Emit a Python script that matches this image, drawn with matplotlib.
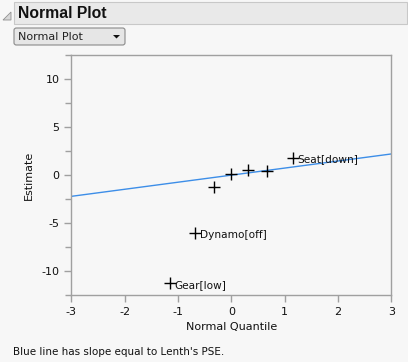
import matplotlib
matplotlib.use("Agg")
from matplotlib import pyplot as plt
from matplotlib.patches import Rectangle, FancyBboxPatch, Polygon

plt.rcParams["axes.unicode_minus"] = False

# normal quantiles and effect estimates
quantiles = [-1.15, -0.674, -0.319, 0.0, 0.319, 0.674, 1.15]
estimates = [-11.3, -6.05, -1.25, 0.17, 0.52, 0.45, 1.77]
labels = ["Gear[low]", "Dynamo[off]", "", "", "", "", "Seat[down]"]
lenth_pse = 0.737

bg = "#f7f7f7"
axis_col = "#a0a0a0"

fig = plt.figure(figsize=(4.08, 3.62), dpi=100, facecolor=bg)

W, H = 408, 362


def box(x0, y0, x1, y1, **kw):
    # pixel coords from top-left
    return Rectangle((x0 / W, 1 - y1 / H), (x1 - x0) / W, (y1 - y0) / H,
                     transform=fig.transFigure, **kw)


# header bar
fig.patches.append(box(14, 2, 407, 24, facecolor="#e9e9e9", edgecolor="#c8c8c8", lw=0.8))
fig.patches.append(Polygon([(3 / W, 1 - 20 / H), (11 / W, 1 - 12 / H), (11 / W, 1 - 20 / H)],
                           closed=True, transform=fig.transFigure,
                           facecolor="#d8d8d8", edgecolor="#909090", lw=0.6))
fig.text(18 / W, 1 - 13.5 / H, "Normal Plot", fontsize=11.3, fontweight="bold",
         family="Liberation Sans", va="center", ha="left", color="#111111")

# dropdown
fig.patches.append(FancyBboxPatch((14 / W, 1 - 45 / H), 111 / W, 17 / H,
                                  boxstyle="round,pad=0,rounding_size=0.006",
                                  transform=fig.transFigure, facecolor="#e6e6e6",
                                  edgecolor="#8a8a8a", lw=0.8))
fig.text(18 / W, 1 - 36.5 / H, "Normal Plot", fontsize=8, va="center", ha="left",
         color="#222222")
fig.patches.append(Polygon([(113 / W, 1 - 35 / H), (120 / W, 1 - 35 / H), (116.5 / W, 1 - 38.5 / H)],
                           closed=True, transform=fig.transFigure, facecolor="#111111",
                           edgecolor="none"))

ax = fig.add_axes([71.3 / W, 1 - 295 / H, 320 / W, 239.7 / H])
ax.set_facecolor(bg)
ax.set_xlim(-3, 3)
ax.set_ylim(-12.5, 12.5)

ax.plot([-3, 3], [-3 * lenth_pse, 3 * lenth_pse], color="#3d8ee8", lw=1.0)
ax.plot(quantiles, estimates, linestyle="none", marker="+", color="black",
        markersize=9, markeredgewidth=1.0)
for q, e, lab in zip(quantiles, estimates, labels):
    if lab:
        ax.annotate(lab, (q, e), xytext=(3.5, -1), textcoords="offset points",
                    fontsize=7.6, va="center", ha="left", color="#111111")

ax.set_xticks([-3, -2, -1, 0, 1, 2, 3])
ax.set_yticks([-10, -5, 0, 5, 10])
ax.set_yticks([-12.5, -7.5, -2.5, 2.5, 7.5, 12.5], minor=True)
ax.tick_params(axis="both", colors=axis_col, labelcolor="#111111", labelsize=8,
               length=5, width=1)
ax.tick_params(axis="y", which="minor", length=4, width=1, colors=axis_col)
for s in ax.spines.values():
    s.set_color(axis_col)
    s.set_linewidth(1)

ax.set_xlabel("Normal Quantile", fontsize=8, color="#111111", va="center")
ax.set_ylabel("Estimate", fontsize=8, color="#111111", va="center")
ax.xaxis.set_label_coords(0.5, (295 - 327) / 239.7)
ax.yaxis.set_label_coords((28.5 - 71.3) / 320, 0.5)

fig.text(13 / W, 1 - 352 / H, "Blue line has slope equal to Lenth's PSE.",
         fontsize=7.5, va="center", ha="left", color="#111111")

fig.savefig("out.png", dpi=100, facecolor=bg)
